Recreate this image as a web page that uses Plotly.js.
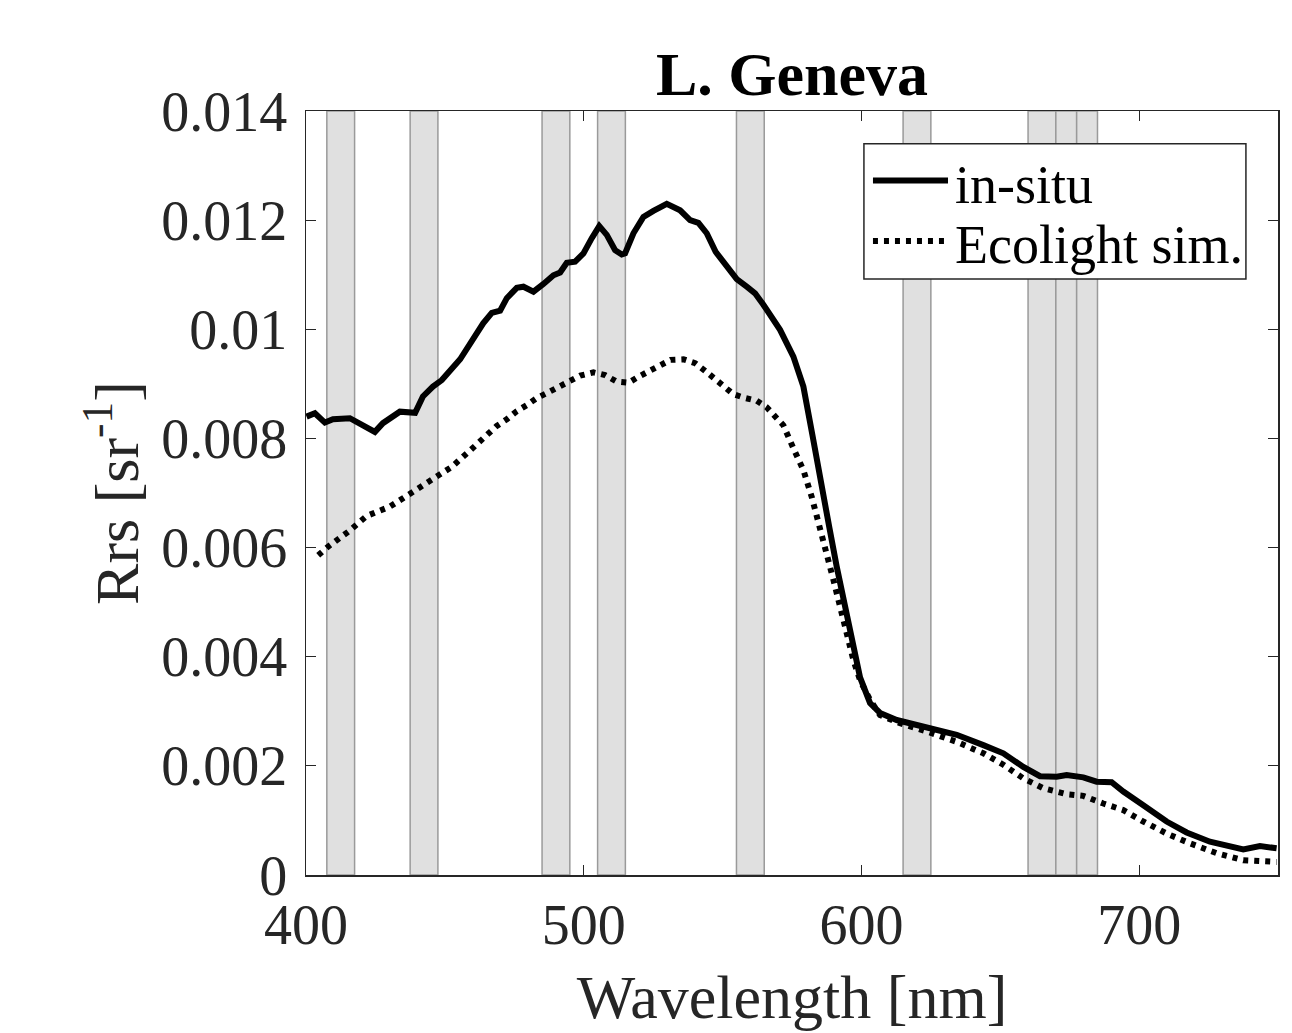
<!DOCTYPE html>
<html>
<head>
<meta charset="utf-8">
<script src="https://cdn.plot.ly/plotly-3.0.1.min.js"></script>
<style>
html,body{margin:0;padding:0;background:#fff;}
#chart{width:1292px;height:1033px;}
</style>
</head>
<body>
<div id="chart"></div>
<script>
// In-situ Rrs spectrum (wavelength nm, Rrs sr^-1)
var insituWl = [400.2,403.2,406.8,409.7,415.8,419.4,424.8,427.7,433.8,439.3,442.1,445.7,448.9,455.5,460.2,463.8,466.9,469.9,472.3,475.9,478.3,481.9,485.5,489.1,491.5,493.9,496.9,499.9,502.9,505.6,508.3,511.3,513.7,514.9,517.9,521.5,525.1,529.9,534.7,538.3,541.3,544.3,547.5,551.5,555.1,558.7,561.7,564.7,568.3,570.7,575.5,579.1,582.4,585.1,588.4,591.1,594.7,597.7,599.5,603.1,606.7,612.7,623.5,634.3,643.9,651.1,658.3,664.3,670.3,673.9,679.9,684.7,690.1,694.3,701.5,709.9,717.1,725.5,737.5,743.5,749.5];
var insituRrs = [0.00840,0.00846,0.00829,0.00835,0.00837,0.00828,0.00812,0.00828,0.00849,0.00847,0.00877,0.00895,0.00907,0.00945,0.00983,0.01011,0.01030,0.01034,0.01057,0.01076,0.01078,0.01069,0.01083,0.01099,0.01104,0.01122,0.01124,0.01139,0.01167,0.01189,0.01173,0.01145,0.01137,0.01139,0.01176,0.01206,0.01217,0.01230,0.01218,0.01200,0.01195,0.01176,0.01142,0.01115,0.01092,0.01078,0.01066,0.01045,0.01017,0.00999,0.00950,0.00895,0.00805,0.00736,0.00638,0.00565,0.00479,0.00406,0.00362,0.00315,0.00297,0.00284,0.00271,0.00257,0.00238,0.00223,0.00198,0.00181,0.00180,0.00183,0.00179,0.00171,0.00170,0.00153,0.00128,0.00098,0.00078,0.00061,0.00047,0.00053,0.00049];

// Ecolight simulated Rrs
var simWl = [404.4,408.0,415.2,421.9,430.2,437.4,441.1,445.3,448.3,452.5,459.1,465.6,468.7,472.3,475.9,479.5,483.1,486.7,490.9,494.5,498.7,503.5,507.7,511.9,516.1,519.7,523.9,527.5,531.3,535.9,540.1,543.7,547.3,550.3,553.9,558.1,562.3,565.9,568.9,571.9,575.5,579.1,582.1,585.1,587.5,589.9,592.3,594.7,597.1,599.5,603.1,606.7,613.9,623.5,634.3,643.9,651.1,658.3,665.5,673.9,679.9,687.1,694.3,701.5,709.9,718.3,727.9,737.5,749.5];
var simRrs = [0.00586,0.00602,0.00629,0.00658,0.00675,0.00699,0.00712,0.00724,0.00736,0.00748,0.00778,0.00809,0.00823,0.00835,0.00850,0.00861,0.00874,0.00883,0.00895,0.00904,0.00915,0.00921,0.00916,0.00904,0.00902,0.00913,0.00925,0.00936,0.00944,0.00945,0.00938,0.00924,0.00908,0.00894,0.00881,0.00874,0.00869,0.00857,0.00840,0.00824,0.00782,0.00742,0.00693,0.00638,0.00589,0.00541,0.00492,0.00443,0.00394,0.00357,0.00321,0.00293,0.00278,0.00263,0.00244,0.00223,0.00202,0.00177,0.00159,0.00148,0.00145,0.00131,0.00119,0.00098,0.00076,0.00058,0.00040,0.00027,0.00024];

// Sensor band edges (nm)
var bandStart = [407.5,437.5,485,505,555,615,660,670,677.5];
var bandEnd   = [417.5,447.5,495,515,565,625,670,677.5,685];

// Tick labels
var xTickVals = [400,500,600,700];
var xTickText = ['400','500','600','700'];
var yTickVals = [0,0.002,0.004,0.006,0.008,0.01,0.012,0.014];
var yTickText = ['0','0.002','0.004','0.006','0.008','0.01','0.012','0.014'];

// Legend entries
var seriesNames = ['in-situ','Ecolight sim.'];

var FONT = 'Liberation Serif, Times New Roman, serif';
var AX = '#262626';
var DOT = '5px,6px';

var shapes = bandStart.map(function(s,i){
  return {type:'rect', xref:'x', yref:'paper', x0:s, x1:bandEnd[i], y0:0, y1:1,
    layer:'below', fillcolor:'#e0e0e0', line:{color:'#9a9a9a', width:1.5}};
});

// Legend box and samples (paper coordinates)
var legX0 = 0.574, legX1 = 0.967, legY0 = 0.780, legY1 = 0.957;
var sampleX0 = 0.5833, sampleX1 = 0.6605;
var rowY = [0.909, 0.830];
var textY = [0.903, 0.824];
shapes.push({type:'rect', xref:'paper', yref:'paper', x0:legX0, x1:legX1, y0:legY0, y1:legY1,
  fillcolor:'#fff', line:{color:AX, width:1.5}, layer:'above'});
shapes.push({type:'line', xref:'paper', yref:'paper', x0:sampleX0, x1:sampleX1, y0:rowY[0], y1:rowY[0],
  line:{color:'#000', width:6}, layer:'above'});
shapes.push({type:'line', xref:'paper', yref:'paper', x0:sampleX0, x1:sampleX1, y0:rowY[1], y1:rowY[1],
  line:{color:'#000', width:6, dash:DOT}, layer:'above'});

var annotations = seriesNames.map(function(n,i){
  return {text:n, xref:'paper', yref:'paper', x:0.6656, y:textY[i], xanchor:'left', yanchor:'middle',
    showarrow:false, font:{family:FONT, size:54, color:'#000'}};
});

var traces = [
  {x:insituWl, y:insituRrs, type:'scatter', mode:'lines', name:seriesNames[0],
   line:{color:'#000', width:6}},
  {x:simWl, y:simRrs, type:'scatter', mode:'lines', name:seriesNames[1],
   line:{color:'#000', width:6, dash:DOT}}
];

var layout = {
  width:1292, height:1033,
  margin:{l:306, r:14, t:111, b:158},
  paper_bgcolor:'#fff', plot_bgcolor:'#fff',
  font:{family:FONT, color:AX},
  title:{text:'<b>L. Geneva</b>', font:{family:FONT, size:62, color:'#000'},
    x:0.5, xref:'paper', xanchor:'center', y:0.929, yref:'container', yanchor:'middle'},
  xaxis:{range:[400,750], tickvals:xTickVals, ticktext:xTickText,
    ticks:'inside', ticklen:10, tickwidth:1.2, tickcolor:AX,
    showline:true, linecolor:AX, linewidth:1.5, mirror:'ticks',
    showgrid:false, zeroline:false, tickfont:{size:56, color:AX},
    title:{text:'Wavelength [nm]', font:{size:62, color:AX}, standoff:20}},
  yaxis:{range:[0,0.014], tickvals:yTickVals, ticktext:yTickText,
    ticks:'inside', ticklen:10, tickwidth:1.2, tickcolor:AX,
    showline:true, linecolor:AX, linewidth:1.5, mirror:'ticks',
    showgrid:false, zeroline:false, tickfont:{size:56, color:AX},
    ticklabelstandoff:6,
    title:{text:'Rrs [sr<sup>-1</sup>]', font:{size:62, color:AX}, standoff:2}},
  shapes:shapes,
  annotations:annotations,
  showlegend:false
};

Plotly.newPlot('chart', traces, layout, {displayModeBar:false, staticPlot:true});
</script>
</body>
</html>
